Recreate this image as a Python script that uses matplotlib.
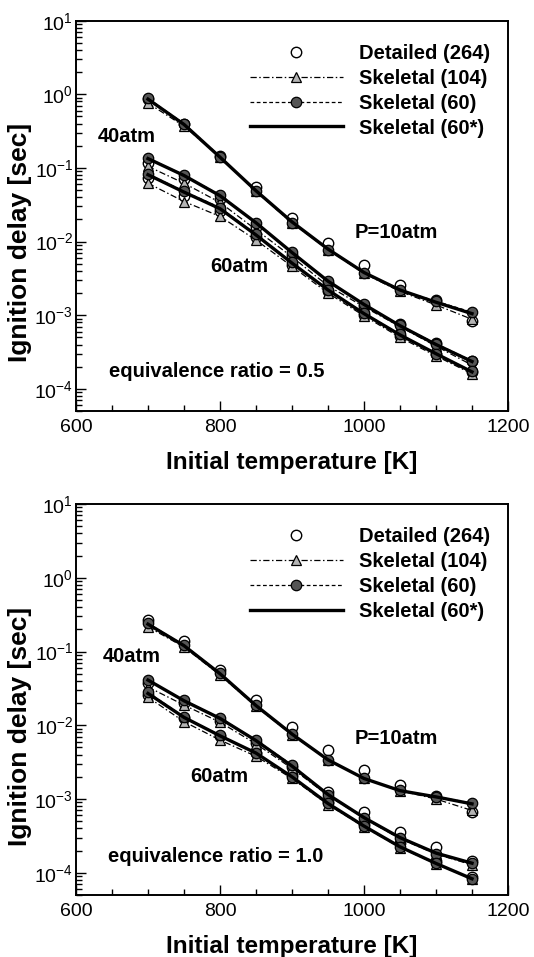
import matplotlib
matplotlib.use("Agg")
import matplotlib.pyplot as plt
from matplotlib.ticker import LogLocator, FixedLocator, FuncFormatter, NullFormatter
from matplotlib.lines import Line2D
import math

plt.rcParams['font.family'] = ['Liberation Sans', 'DejaVu Sans']
plt.rcParams['mathtext.fontset'] = 'custom'
plt.rcParams['mathtext.rm'] = 'Liberation Sans'
plt.rcParams['mathtext.it'] = 'Liberation Sans:italic'
plt.rcParams['mathtext.bf'] = 'Liberation Sans:bold'

# ---------------- data ----------------
T = [700, 750, 800, 850, 900, 950, 1000, 1050, 1100, 1150]

# equivalence ratio 0.5
p05_10_det   = [0.87, 0.40, 0.145, 0.055, 0.021, 0.0095, 0.0048, 0.0026, 0.0016, 0.00083]
p05_10_s104  = [0.76, 0.37, 0.14, 0.048, 0.018, 0.0078, 0.0037, 0.0021, 0.00138, 0.00088]
p05_10_s60   = [0.88, 0.40, 0.143, 0.048, 0.018, 0.0078, 0.0037, 0.0022, 0.00155, 0.0011]
p05_10_s60s  = [0.86, 0.39, 0.14, 0.049, 0.0185, 0.0079, 0.0038, 0.0022, 0.0015, 0.00105]

p05_40_det   = [0.117, 0.070, 0.038, 0.016, 0.0066, 0.0027, 0.00135, 0.00076, 0.00042, 0.00024]
p05_40_s104  = [0.105, 0.062, 0.034, 0.0145, 0.0062, 0.0025, 0.0013, 0.0007, 0.00038, 0.00021]
p05_40_s60   = [0.136, 0.080, 0.043, 0.018, 0.0072, 0.0029, 0.0014, 0.00073, 0.00041, 0.00024]
p05_40_s60s  = [0.134, 0.079, 0.042, 0.018, 0.0071, 0.0029, 0.0014, 0.00072, 0.0004, 0.000235]

p05_60_det   = [0.072, 0.042, 0.026, 0.0115, 0.0048, 0.0021, 0.00102, 0.00053, 0.0003, 0.00017]
p05_60_s104  = [0.062, 0.035, 0.022, 0.0105, 0.0046, 0.002, 0.00098, 0.0005, 0.00028, 0.00016]
p05_60_s60   = [0.083, 0.048, 0.029, 0.0125, 0.0052, 0.0022, 0.00107, 0.00055, 0.0003, 0.000173]
p05_60_s60s  = [0.081, 0.047, 0.028, 0.0123, 0.0051, 0.0022, 0.00105, 0.00054, 0.0003, 0.00017]

# equivalence ratio 1.0
p10_10_det   = [0.27, 0.14, 0.057, 0.0218, 0.0094, 0.0046, 0.0025, 0.00154, 0.0011, 0.00066]
p10_10_s104  = [0.216, 0.115, 0.048, 0.018, 0.0074, 0.0034, 0.0019, 0.0013, 0.001, 0.0007]
p10_10_s60   = [0.24, 0.122, 0.051, 0.0187, 0.0076, 0.0034, 0.0019, 0.00132, 0.00108, 0.00088]
p10_10_s60s  = [0.235, 0.12, 0.05, 0.0185, 0.0076, 0.0034, 0.0019, 0.0013, 0.00107, 0.00086]

p10_40_det   = [0.038, 0.020, 0.0115, 0.0058, 0.0027, 0.00126, 0.00067, 0.00036, 0.000226, 0.000145]
p10_40_s104  = [0.033, 0.0188, 0.011, 0.0056, 0.0026, 0.00112, 0.00055, 0.00029, 0.00018, 0.000128]
p10_40_s60   = [0.041, 0.0218, 0.0126, 0.0063, 0.0029, 0.00114, 0.00055, 0.000294, 0.000182, 0.000135]
p10_40_s60s  = [0.041, 0.0215, 0.0124, 0.0062, 0.0028, 0.00115, 0.00056, 0.0003, 0.000185, 0.000135]

p10_60_det   = [0.026, 0.0125, 0.0072, 0.0042, 0.0021, 0.00092, 0.00046, 0.00025, 0.000145, 0.000088]
p10_60_s104  = [0.024, 0.0112, 0.0063, 0.0038, 0.0019, 0.00084, 0.00042, 0.00022, 0.000132, 0.000082]
p10_60_s60   = [0.028, 0.013, 0.0073, 0.0042, 0.002, 0.00087, 0.00043, 0.000226, 0.000135, 0.000083]
p10_60_s60s  = [0.027, 0.0128, 0.0072, 0.0042, 0.002, 0.00087, 0.00043, 0.000225, 0.000134, 0.000083]

legend_labels = ["Detailed (264)", "Skeletal (104)", "Skeletal (60)", "Skeletal (60*)"]
x_ticks = [600, 800, 1000, 1200]
xlabel = "Initial temperature [K]"
ylabel = "Ignition delay [sec]"

panels = [
    dict(sets=[(p05_10_det, p05_10_s104, p05_10_s60, p05_10_s60s),
               (p05_40_det, p05_40_s104, p05_40_s60, p05_40_s60s),
               (p05_60_det, p05_60_s104, p05_60_s60, p05_60_s60s)],
         texts=[("40atm", 98, 137), ("P=10atm", 355, 232), ("60atm", 210, 266),
                ("equivalence ratio = 0.5", 109, 371)]),
    dict(sets=[(p10_10_det, p10_10_s104, p10_10_s60, p10_10_s60s),
               (p10_40_det, p10_40_s104, p10_40_s60, p10_40_s60s),
               (p10_60_det, p10_60_s104, p10_60_s60, p10_60_s60s)],
         texts=[("40atm", 103, 656), ("P=10atm", 355, 738), ("60atm", 190, 777),
                ("equivalence ratio = 1.0", 108, 857)]),
]

W, H = 534, 957
fig = plt.figure(figsize=(W / 100, H / 100), dpi=100)

axes_px = [(76, 20.7, 508, 411), (76, 504, 508, 895)]

style_det = dict(linestyle='none', marker='o', markersize=7.5, markerfacecolor='white',
                 markeredgecolor='black', markeredgewidth=1.0)
style_104 = dict(linestyle=(0, (5, 2, 1.2, 2)), color='black', linewidth=0.9, marker='^',
                 markersize=7.5, markerfacecolor='#b4b4b4', markeredgecolor='black', markeredgewidth=0.9)
style_60 = dict(linestyle=(0, (3, 2)), color='black', linewidth=0.9, marker='o',
                markersize=7.5, markerfacecolor='#555555', markeredgecolor='black', markeredgewidth=0.9)
style_60s = dict(linestyle='-', color='black', linewidth=2.4)

def fmt_y(v, pos):
    e = int(round(math.log10(v)))
    return r'$\mathregular{10^{%d}}$' % e

for (l, t, r, b), panel in zip(axes_px, panels):
    ax = fig.add_axes([l / W, 1 - b / H, (r - l) / W, (b - t) / H])
    for det, s104, s60, s60s in panel['sets']:
        ax.plot(T, det, zorder=2, **style_det)
        ax.plot(T, s104, zorder=3, **style_104)
        ax.plot(T, s60, zorder=4, **style_60)
        ax.plot(T, s60s, zorder=5, **style_60s)
    ax.set_yscale('log')
    ax.set_xlim(600, 1200)
    ax.set_ylim(5e-5, 10)
    ax.xaxis.set_major_locator(FixedLocator(x_ticks))
    ax.xaxis.set_minor_locator(FixedLocator(list(range(650, 1200, 50))))
    ax.yaxis.set_major_locator(LogLocator(base=10, numticks=20))
    ax.yaxis.set_minor_locator(LogLocator(base=10, subs=[2, 3, 4, 5, 6, 7, 8, 9], numticks=20))
    ax.yaxis.set_major_formatter(FuncFormatter(fmt_y))
    ax.yaxis.set_minor_formatter(NullFormatter())
    ax.tick_params(which='both', direction='in', top=False, right=False, width=1.0,
                   labelsize=14)
    ax.tick_params(axis='x', pad=6)
    ax.tick_params(axis='y', pad=2)
    ax.tick_params(which='major', length=7)
    ax.tick_params(which='minor', length=4)
    for s in ax.spines.values():
        s.set_linewidth(1.4)

    handles = [Line2D([], [], **style_det), Line2D([], [], **style_104),
               Line2D([], [], **style_60), Line2D([], [], **style_60s)]
    ax.legend(handles, legend_labels, loc='upper left',
              bbox_to_anchor=((250 - l) / (r - l), 1 - (44 - 20.7) / (b - t)),
              frameon=False, handlelength=4.6, handletextpad=0.8, labelspacing=0.29,
              borderpad=0, borderaxespad=0, numpoints=1,
              prop=dict(weight='bold', size=14.5))

    for txt, x, y in panel['texts']:
        fig.text(x / W, 1 - y / H, txt, ha='left', va='center', fontsize=14.5, fontweight='bold')

    fig.text((l + r) / 2 / W, 1 - (b + 51) / H, xlabel, ha='center', va='center',
             fontsize=17.5, fontweight='bold')
    fig.text(20 / W, 1 - (t + 222) / H, ylabel, ha='center', va='center',
             rotation=90, fontsize=19, fontweight='bold')

fig.savefig('out.png', dpi=100)
